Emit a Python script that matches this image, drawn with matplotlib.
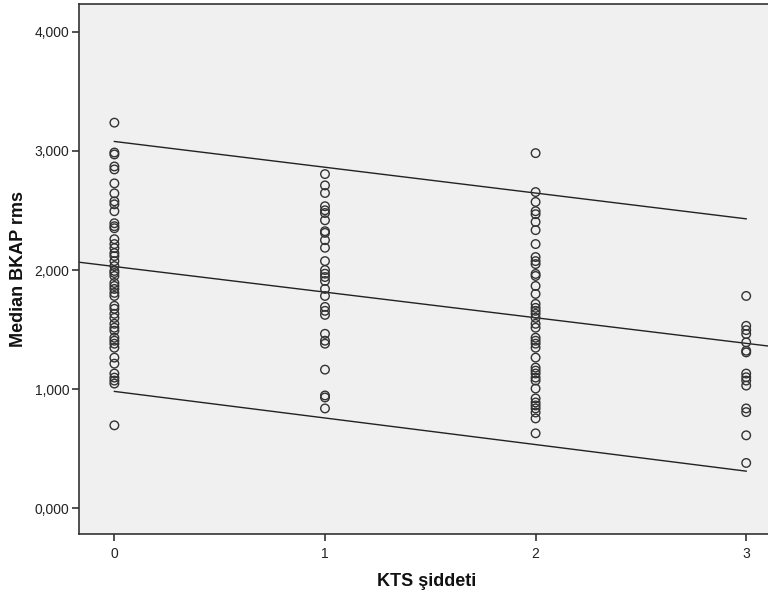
import matplotlib
matplotlib.use("Agg")
import matplotlib.pyplot as plt
import numpy as np
from matplotlib.ticker import FuncFormatter

plt.rcParams['font.family'] = ['Liberation Sans', 'DejaVu Sans']

# Data
kts_levels = [0, 1, 2, 3]
bkap_g0 = [3.238, 2.987, 2.971, 2.870, 2.845, 2.728, 2.644, 2.577, 2.552, 2.494,
           2.393, 2.368, 2.351, 2.259, 2.218, 2.184, 2.142, 2.117, 2.075, 2.033,
           1.992, 1.975, 1.950, 1.891, 1.866, 1.841, 1.808, 1.782, 1.699, 1.674,
           1.632, 1.598, 1.548, 1.515, 1.490, 1.431, 1.406, 1.381, 1.347, 1.264,
           1.213, 1.130, 1.096, 1.071, 1.046, 0.695]
bkap_g1 = [2.806, 2.711, 2.647, 2.536, 2.502, 2.479, 2.418, 2.326, 2.312, 2.251,
           2.187, 2.075, 2.000, 1.969, 1.941, 1.908, 1.841, 1.782, 1.690, 1.657,
           1.623, 1.464, 1.406, 1.381, 1.163, 0.946, 0.929, 0.837]
bkap_g2 = [2.982, 2.655, 2.572, 2.494, 2.469, 2.404, 2.335, 2.218, 2.109, 2.075,
           2.050, 1.967, 1.950, 1.866, 1.799, 1.715, 1.682, 1.657, 1.632, 1.598,
           1.548, 1.515, 1.431, 1.406, 1.381, 1.347, 1.264, 1.180, 1.155, 1.130,
           1.096, 1.071, 1.004, 0.921, 0.887, 0.862, 0.837, 0.803, 0.753, 0.628]
bkap_g3 = [1.782, 1.531, 1.495, 1.462, 1.392, 1.322, 1.308, 1.130, 1.099, 1.071,
           1.029, 0.837, 0.806, 0.611, 0.379]

# Fit line and prediction interval
fit_x = [-0.17, 3.12]
fit_y = [2.066, 1.358]
upper_x = [0, 3]
upper_y = [3.08, 2.43]
lower_x = [0, 3]
lower_y = [0.98, 0.31]

y_ticks = [0, 1, 2, 3, 4]
x_ticks = [0, 1, 2, 3]

fig = plt.figure(figsize=(7.68, 5.98), dpi=100)
ax = fig.add_axes([79/768, 1 - 534/598, (768 - 79)/768 + 0.01, (534 - 4)/598])
ax.set_facecolor('#F0F0F0')

groups = [bkap_g0, bkap_g1, bkap_g2, bkap_g3]
for lvl, vals in zip(kts_levels, groups):
    ax.scatter([lvl] * len(vals), vals, s=38, facecolors='none',
               edgecolors='#333333', linewidths=1.0, zorder=3)

ax.plot(fit_x, fit_y, color='#222222', lw=1.0, zorder=2)
ax.plot(upper_x, upper_y, color='#222222', lw=1.0, zorder=2)
ax.plot(lower_x, lower_y, color='#222222', lw=1.0, zorder=2)

ax.set_xlim(-0.168, 3.14)
ax.set_ylim(-0.218, 4.235)
ax.set_xticks(x_ticks)
ax.set_yticks(y_ticks)
ax.yaxis.set_major_formatter(FuncFormatter(lambda v, p: f"{int(round(v))},000"))
ax.tick_params(direction='out', length=5, width=1.2, color='#333333',
               labelsize=10, labelcolor='#222222', pad=2)
ax.tick_params(axis='x', pad=4)

ax.spines['right'].set_visible(False)
for side in ['left', 'bottom', 'top']:
    ax.spines[side].set_color('#333333')
    ax.spines[side].set_linewidth(1.2)

fig.text(427/768, 1 - 581/598, 'KTS şiddeti', fontsize=13, fontweight='bold',
         ha='center', va='center', color='#111111')
fig.text(19/768, 1 - 269/598, 'Median BKAP rms', fontsize=13, fontweight='bold',
         ha='center', va='center', rotation=90, color='#111111')

fig.savefig('out.png', dpi=100, facecolor='white')
